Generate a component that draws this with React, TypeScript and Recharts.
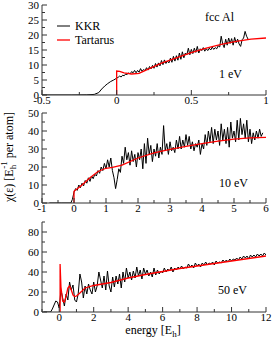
import React from 'react';
import { LineChart, Line, XAxis, YAxis } from 'recharts';

const FONT = '"Liberation Serif", "Times New Roman", serif';
const AXIS = '#333';

// ---------- Panel 1 (1 eV) ----------
const P1_KKR_PRE_X = [-0.5, -0.3, -0.2, -0.15, -0.12, -0.1, -0.08, -0.06, -0.04, -0.02];
const P1_KKR_PRE_Y = [0, 0, 0.05, 0.2, 0.8, 2, 3, 3.8, 4.5, 5];
const P1_KKR_START = 0;
const P1_KKR_STEP = 0.01;
const P1_KKR_Y = [
  5.6, 5.9, 6.3, 6.0, 6.6, 6.4, 7.0, 6.8, 7.4, 7.0,
  7.8, 7.4, 8.2, 7.4, 8.2, 7.6, 8.8, 7.9, 8.5, 8.1,
  9.1, 8.3, 9.5, 8.7, 9.9, 8.9, 10.5, 9.3, 10.7, 9.7,
  11.5, 10.1, 11.7, 10.5, 11.3, 10.7, 12.3, 10.9, 12.9, 11.3,
  13.1, 11.6, 14.0, 11.9, 14.4, 12.4, 14.0, 13.4, 15.6, 13.4,
  15.2, 13.8, 15.6, 14.2, 16.2, 14.0, 15.4, 14.8, 15.8, 14.6,
  15.4, 14.8, 15.6, 15.0, 16.0, 15.2, 15.8, 15.4, 16.4, 16.0,
  19.6, 17.0, 15.8, 18.6, 16.6, 19.0, 17.2, 18.8, 16.6, 19.2,
  17.4, 18.6, 17.0, 16.2, 18.4, 19.0, 21.2, 19.6, 18.6,
];
const P1_TAR_X = [0, 0, 0.02, 0.05, 0.1, 0.15, 0.2, 0.3, 0.4, 0.5, 0.6, 0.7, 0.8, 0.9, 1.0];
const P1_TAR_Y = [0, 8.0, 7.9, 7.4, 7.0, 7.2, 8.4, 10.6, 12.4, 14.1, 15.6, 16.9, 17.9, 18.6, 19.0];
const P1_X_TICKS = [-0.5, -0.25, 0, 0.25, 0.5, 0.75, 1];
const P1_X_MAJOR = [-0.5, 0, 0.5, 1];
const P1_Y_TICKS = [0, 2.5, 5, 7.5, 10, 12.5, 15, 17.5, 20, 22.5, 25, 27.5, 30];
const P1_Y_MAJOR = [0, 5, 10, 15, 20, 25, 30];

// ---------- Panel 2 (10 eV) ----------
const P2_KKR_PRE_X = [-0.77, -0.4, -0.1, -0.05];
const P2_KKR_PRE_Y = [0, 0, 0, 2];
const P2_KKR_START = 0;
const P2_KKR_STEP = 0.05;
const P2_KKR_Y = [
  6, 8, 7, 10, 8.5, 11, 9.5, 12.5, 11, 14,
  12, 15, 13.5, 16, 15, 18, 16.5, 20, 18, 22,
  19, 24, 20, 25, 18, 14, 8, 13, 19, 17,
  26, 22, 31, 24, 28, 21, 29, 23, 27, 20,
  28, 24, 30, 19, 33, 22, 36, 27, 32, 23,
  30, 26, 33, 25, 31, 27, 43, 29, 33, 27,
  34, 29, 31, 28, 35, 30, 37, 30, 35, 31,
  38, 32, 37, 30, 34, 29, 33, 31, 35, 27,
  33, 30, 38, 32, 40, 34, 42, 33, 41, 35,
  40, 32, 44, 35, 41, 33, 42, 31, 45, 36,
  40, 34, 46, 35, 47, 38, 44, 36, 46, 34,
  41, 33, 39, 35, 40, 36, 41, 37, 39,
];
const P2_TAR_X = [0, 0, 0.25, 0.5, 0.75, 1.0, 1.2, 1.5, 2, 2.5, 3, 3.5, 4, 4.5, 5, 5.5, 6];
const P2_TAR_Y = [0, 6.5, 10, 14, 17.5, 19.3, 19.8, 21, 25, 27.8, 29.8, 31.5, 33, 34.4, 35.5, 36.2, 36.5];
const P2_X_TICKS = [-1, -0.5, 0, 0.5, 1, 1.5, 2, 2.5, 3, 3.5, 4, 4.5, 5, 5.5, 6];
const P2_X_MAJOR = [-1, 0, 1, 2, 3, 4, 5, 6];
const P2_Y_TICKS = [0, 5, 10, 15, 20, 25, 30, 35, 40, 45, 50];
const P2_Y_MAJOR = [0, 10, 20, 30, 40, 50];

// ---------- Panel 3 (50 eV) ----------
const P3_KKR_PRE_X = [-0.9, -0.5, -0.4, -0.3, -0.2, -0.1];
const P3_KKR_PRE_Y = [0, 0, 3, 7, 11, 10];
const P3_KKR_START = 0;
const P3_KKR_STEP = 0.1;
const P3_KKR_Y = [
  4, 22, 14, 6, 18, 12, 30, 22, 27, 12,
  10, 18, 38, 30, 14, 26, 18, 28, 22, 18,
  30, 20, 26, 40, 32, 24, 36, 22, 41, 26,
  20, 35, 25, 36, 28, 38, 24, 40, 30, 44,
  34, 40, 32, 41, 34, 45, 36, 42, 33, 44,
  38, 42, 36, 40, 35, 44, 37, 42, 38, 41,
  39, 44, 40, 43, 41, 45, 40, 44, 42, 45,
  43, 46, 43, 45, 44, 48, 45, 47, 44, 49,
  46, 48, 45, 49, 47, 50, 47, 49, 48, 50,
  47, 51, 49, 50, 49, 52, 50, 52, 50, 53,
  51, 53, 52, 54, 52, 55, 53, 56, 54, 56,
  53, 57, 55, 57, 55, 58, 56, 58, 56, 59,
  57,
];
const P3_TAR_X = [0.05, 0.05, 0.1, 0.2, 0.3, 0.4, 0.5, 0.6, 0.7, 0.8, 0.9, 1.0, 1.2, 1.5, 2, 3, 4, 5, 6, 7, 8, 9, 10, 11, 12];
const P3_TAR_Y = [0, 48, 25, 11, 10, 16, 24, 26, 22, 17, 15.5, 16, 19, 24, 26.5, 29.5, 34, 37.5, 40.5, 43.5, 46, 48.5, 51, 53.5, 56];
const P3_X_TICKS = [-1, 0, 1, 2, 3, 4, 5, 6, 7, 8, 9, 10, 11, 12];
const P3_X_MAJOR = [0, 2, 4, 6, 8, 10, 12];
const P3_Y_TICKS = [0, 10, 20, 30, 40, 50, 60, 70, 80, 90];
const P3_Y_MAJOR = [0, 20, 40, 60, 80];

// ---------- helpers ----------
const pairs = (xs: number[], ys: number[]) => xs.map((x, i) => ({ x, y: ys[i] }));
const grid = (start: number, step: number, ys: number[]) =>
  ys.map((y, i) => ({ x: +(start + i * step).toFixed(4), y }));

const TICK_FS = 11;
const isMajor = (majors: number[], v: number) => majors.some((m) => Math.abs(m - v) < 1e-9);

const bottomTick = (majors: number[]) => (p: any) => {
  const v = p.payload.value;
  const major = isMajor(majors, v);
  return (
    <g>
      <line x1={p.x} x2={p.x} y1={p.y} y2={p.y - (major ? 5 : 3)} stroke={AXIS} strokeWidth={1} />
      {major && (
        <text x={p.x} y={p.y + 9} textAnchor="middle" fontSize={TICK_FS} fontFamily={FONT} fill="#000">
          {String(v)}
        </text>
      )}
    </g>
  );
};
const topTick = (majors: number[]) => (p: any) => {
  const major = isMajor(majors, p.payload.value);
  return <line x1={p.x} x2={p.x} y1={p.y} y2={p.y + (major ? 5 : 3)} stroke={AXIS} strokeWidth={1} />;
};
const leftTick = (majors: number[]) => (p: any) => {
  const v = p.payload.value;
  const major = isMajor(majors, v);
  return (
    <g>
      <line x1={p.x} x2={p.x + (major ? 5 : 3)} y1={p.y} y2={p.y} stroke={AXIS} strokeWidth={1} />
      {major && (
        <text x={p.x - 3} y={p.y + 4} textAnchor="end" fontSize={TICK_FS} fontFamily={FONT} fill="#000">
          {String(v)}
        </text>
      )}
    </g>
  );
};
const rightTick = (majors: number[]) => (p: any) => {
  const major = isMajor(majors, p.payload.value);
  return <line x1={p.x} x2={p.x - (major ? 5 : 3)} y1={p.y} y2={p.y} stroke={AXIS} strokeWidth={1} />;
};

type PanelProps = {
  top: number;
  height: number;
  marginTop: number;
  xAxisHeight: number;
  xDomain: [number, number];
  yDomain: [number, number];
  xTicks: number[];
  xMajor: number[];
  yTicks: number[];
  yMajor: number[];
  kkr: { x: number; y: number }[];
  tar: { x: number; y: number }[];
  overlay: React.ReactNode;
};

function Panel(props: PanelProps) {
  const { top, height, marginTop, xAxisHeight, xDomain, yDomain, xTicks, xMajor, yTicks, yMajor, kkr, tar } = props;
  return (
    <div style={{ position: 'absolute', left: 0, top, width: 273, height }}>
      <LineChart width={273} height={height} margin={{ top: marginTop, right: 7, left: 0, bottom: 0 }}>
        <XAxis
          xAxisId="b"
          type="number"
          dataKey="x"
          domain={xDomain}
          ticks={xTicks}
          allowDataOverflow
          height={xAxisHeight}
          tickSize={0}
          tickMargin={0}
          tickLine={false}
          axisLine={{ stroke: AXIS, strokeWidth: 1 }}
          tick={bottomTick(xMajor)}
          interval={0}
        />
        <XAxis
          xAxisId="t"
          orientation="top"
          type="number"
          dataKey="x"
          domain={xDomain}
          ticks={xTicks}
          allowDataOverflow
          height={0}
          tickSize={0}
          tickMargin={0}
          tickLine={false}
          axisLine={{ stroke: AXIS, strokeWidth: 1 }}
          tick={topTick(xMajor)}
          interval={0}
        />
        <YAxis
          yAxisId="l"
          type="number"
          domain={yDomain}
          ticks={yTicks}
          allowDataOverflow
          width={42}
          tickSize={0}
          tickMargin={0}
          tickLine={false}
          axisLine={{ stroke: AXIS, strokeWidth: 1 }}
          tick={leftTick(yMajor)}
          interval={0}
        />
        <YAxis
          yAxisId="r"
          orientation="right"
          type="number"
          domain={yDomain}
          ticks={yTicks}
          allowDataOverflow
          width={0}
          tickSize={0}
          tickMargin={0}
          tickLine={false}
          axisLine={{ stroke: AXIS, strokeWidth: 1 }}
          tick={rightTick(yMajor)}
          interval={0}
        />
        <Line
          xAxisId="b"
          yAxisId="l"
          data={kkr}
          dataKey="y"
          type="linear"
          stroke="#000"
          strokeWidth={1}
          dot={false}
          isAnimationActive={false}
        />
        <Line
          xAxisId="b"
          yAxisId="l"
          data={tar}
          dataKey="y"
          type="linear"
          stroke="#ff0000"
          strokeWidth={1.3}
          dot={false}
          isAnimationActive={false}
        />
      </LineChart>
      <svg
        width={273}
        height={height}
        style={{ position: 'absolute', left: 0, top: 0, pointerEvents: 'none' }}
      >
        {props.overlay}
      </svg>
    </div>
  );
}

const txt = { fontFamily: FONT, fontSize: 12, fill: '#000' } as const;

export default function App() {
  const p1k = [...pairs(P1_KKR_PRE_X, P1_KKR_PRE_Y), ...grid(P1_KKR_START, P1_KKR_STEP, P1_KKR_Y)];
  const p1t = pairs(P1_TAR_X, P1_TAR_Y);
  const p2k = [...pairs(P2_KKR_PRE_X, P2_KKR_PRE_Y), ...grid(P2_KKR_START, P2_KKR_STEP, P2_KKR_Y)];
  const p2t = pairs(P2_TAR_X, P2_TAR_Y);
  const p3k = [...pairs(P3_KKR_PRE_X, P3_KKR_PRE_Y), ...grid(P3_KKR_START, P3_KKR_STEP, P3_KKR_Y)];
  const p3t = pairs(P3_TAR_X, P3_TAR_Y);

  return (
    <div style={{ position: 'absolute', left: 0, top: 0, width: 273, height: 339, background: '#fff', overflow: 'hidden' }}>
      <Panel
        top={0}
        height={110}
        marginTop={5}
        xAxisHeight={15}
        xDomain={[-0.5, 1]}
        yDomain={[0, 30]}
        xTicks={P1_X_TICKS}
        xMajor={P1_X_MAJOR}
        yTicks={P1_Y_TICKS}
        yMajor={P1_Y_MAJOR}
        kkr={p1k}
        tar={p1t}
        overlay={
          <g>
            <line x1={57} x2={70} y1={26} y2={26} stroke="#000" strokeWidth={1} />
            <text x={75} y={30} {...txt}>KKR</text>
            <line x1={57} x2={70} y1={40} y2={40} stroke="#ff0000" strokeWidth={1.3} />
            <text x={75} y={44} {...txt}>Tartarus</text>
            <text x={205} y={21} {...txt}>fcc Al</text>
            <text x={219} y={78} {...txt}>1 eV</text>
          </g>
        }
      />
      <Panel
        top={100}
        height={120}
        marginTop={13}
        xAxisHeight={17}
        xDomain={[-1, 6]}
        yDomain={[0, 50]}
        xTicks={P2_X_TICKS}
        xMajor={P2_X_MAJOR}
        yTicks={P2_Y_TICKS}
        yMajor={P2_Y_MAJOR}
        kkr={p2k}
        tar={p2t}
        overlay={
          <g>
            <text x={219} y={87} {...txt}>10 eV</text>
            <text x={13} y={57} transform="rotate(-90 13 57)" textAnchor="middle" {...txt}>
              <tspan>χ(ε) [E</tspan>
              <tspan fontSize={9} dy={3}>h</tspan>
              <tspan fontSize={9} dx={-4} dy={-9}>-1</tspan>
              <tspan dy={6}> per atom]</tspan>
            </text>
          </g>
        }
      />
      <Panel
        top={215}
        height={124}
        marginTop={7}
        xAxisHeight={27}
        xDomain={[-1, 12]}
        yDomain={[0, 90]}
        xTicks={P3_X_TICKS}
        xMajor={P3_X_MAJOR}
        yTicks={P3_Y_TICKS}
        yMajor={P3_Y_MAJOR}
        kkr={p3k}
        tar={p3t}
        overlay={
          <g>
            <text x={218} y={79} {...txt}>50 eV</text>
            <text x={153} y={119} textAnchor="middle" {...txt}>
              <tspan>energy [E</tspan>
              <tspan fontSize={9} dy={3}>h</tspan>
              <tspan dy={-3}>]</tspan>
            </text>
          </g>
        }
      />
    </div>
  );
}
